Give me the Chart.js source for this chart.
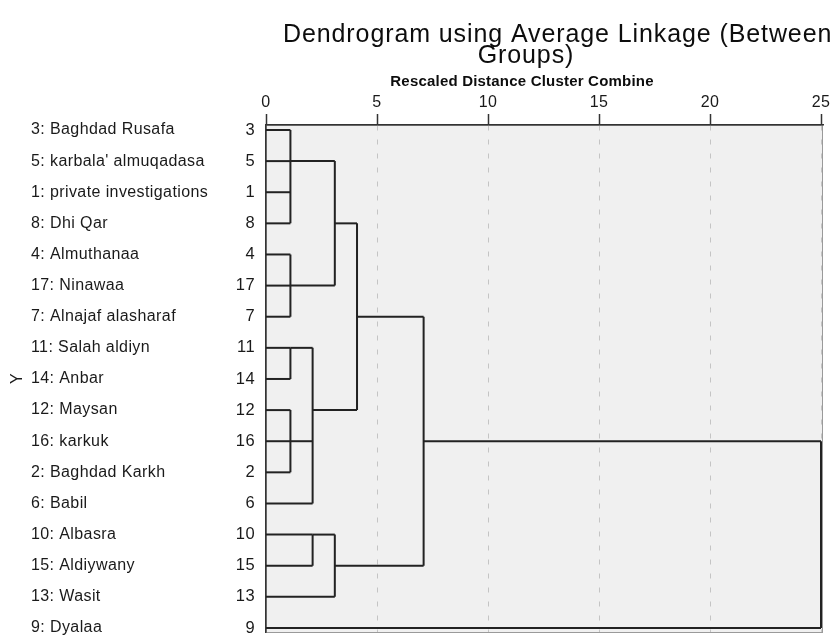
<!DOCTYPE html>
<html>
<head>
<meta charset="utf-8">
<script src="https://cdn.jsdelivr.net/npm/chart.js@4/dist/chart.umd.min.js"></script>
<style>
  html, body { margin: 0; padding: 0; background: #fff; }
  #wrap { width: 840px; height: 637px; position: relative; }
</style>
</head>
<body>
<div id="wrap"><canvas id="dendro"></canvas></div>
<script>
// leaves, top to bottom
const ids = ['3', '5', '1', '8', '4', '17', '7', '11', '14', '12', '16', '2', '6', '10', '15', '13', '9'];
const names = ['Baghdad Rusafa', "karbala' almuqadasa", 'private investigations', 'Dhi Qar', 'Almuthanaa',
  'Ninawaa', 'Alnajaf alasharaf', 'Salah aldiyn', 'Anbar', 'Maysan', 'karkuk', 'Baghdad Karkh', 'Babil',
  'Albasra', 'Aldiywany', 'Wasit', 'Dyalaa'];

// merges: children (leaf ids or n#), rescaled distance, leaf row the joined branch leaves from
const nodeChildren = [
  ['3', '5', '1', '8'],
  ['4', '17', '7'],
  ['n0', 'n1'],
  ['11', '14'],
  ['12', '16', '2'],
  ['n3', 'n4', '6'],
  ['n2', 'n5'],
  ['10', '15'],
  ['n7', '13'],
  ['n6', 'n8'],
  ['n9', '9']
];
const nodeDistance = [1.1, 1.1, 3.1, 1.1, 1.1, 2.1, 4.1, 2.1, 3.1, 7.1, 25];
const nodeRow = ['5', '17', '8', '11', '16', '12', '7', '10', '15', '16', '16'];

const xTicks = [0, 5, 10, 15, 20, 25];

const lineColor = '#222';
const textColor = '#1a1a1a';
const fontFamily = '"Liberation Sans", Arial, sans-serif';

// build the segments
function rowOf(key) {
  if (key[0] === 'n') return ids.indexOf(nodeRow[+key.slice(1)]);
  return ids.indexOf(key);
}
function distOf(key) {
  return key[0] === 'n' ? nodeDistance[+key.slice(1)] : 0;
}
const segments = [];
nodeChildren.forEach((kids, i) => {
  const d = nodeDistance[i];
  const rows = kids.map(rowOf);
  kids.forEach(k => {
    segments.push([{x: distOf(k), y: rowOf(k)}, {x: d, y: rowOf(k)}]);
  });
  segments.push([{x: d, y: Math.min(...rows)}, {x: d, y: Math.max(...rows)}]);
});

const datasets = segments.map(seg => ({
  data: seg,
  showLine: true,
  borderColor: lineColor,
  borderWidth: 2,
  pointRadius: 0,
  fill: false,
  xAxisID: 'x',
  yAxisID: 'y'
}));

const plotLook = {
  id: 'plotLook',
  beforeUpdate(chart) {
    chart.ctx.letterSpacing = '0.4px';
  },
  beforeDraw(chart) {
    const {ctx, chartArea: a} = chart;
    ctx.letterSpacing = '0.4px';
    ctx.save();
    ctx.fillStyle = '#f0f0f0';
    ctx.fillRect(a.left, a.top, a.right - a.left, a.bottom - a.top);
    ctx.strokeStyle = '#9a9a9a';
    ctx.lineWidth = 1;
    ctx.strokeRect(a.left + 0.5, a.top + 0.5, a.right - a.left - 1, a.bottom - a.top);
    ctx.restore();
  },
  afterDraw(chart) {
    const ctx = chart.ctx;
    ctx.save();
    ctx.fillStyle = '#0d0d0d';
    ctx.textBaseline = 'alphabetic';
    ctx.letterSpacing = '0.9px';
    ctx.font = '25px ' + fontFamily;
    ctx.textAlign = 'left';
    ctx.fillText('Dendrogram using Average Linkage (Between', 283, 42);
    ctx.textAlign = 'center';
    ctx.fillText('Groups)', 526, 63);
    ctx.letterSpacing = '0.2px';
    ctx.font = 'bold 15px ' + fontFamily;
    ctx.fillText('Rescaled Distance Cluster Combine', 522, 86);
    ctx.restore();
  }
};

const noPad = s => { s.paddingTop = 0; s.paddingBottom = 0; };
const rowScale = {
  type: 'linear',
  min: -0.16,
  max: 16.13,
  reverse: true,
  grid: {display: false}
};

new Chart(document.getElementById('dendro'), {
  type: 'scatter',
  data: {datasets: datasets},
  options: {
    responsive: true,
    maintainAspectRatio: false,
    animation: false,
    layout: {padding: {top: 89, right: 17, bottom: 5, left: 0}},
    plugins: {legend: {display: false}, tooltip: {enabled: false}, title: {display: false}},
    scales: {
      x: {
        type: 'linear',
        position: 'top',
        min: 0,
        max: 25.09,
        afterBuildTicks: s => { s.ticks = xTicks.map(v => ({value: v})); },
        ticks: {font: {size: 16, family: fontFamily}, color: textColor, padding: 2, maxRotation: 0},
        grid: {
          color: c => c.tick && c.tick.value === 0 ? 'rgba(0,0,0,0)' : '#c4c4c4',
          lineWidth: 1,
          tickLength: 11,
          tickColor: '#333',
          tickWidth: 1.5
        },
        border: {display: true, color: '#333', width: 1.5, dash: [5, 9]},
        afterFit: s => { s.height = 36; }
      },
      y: Object.assign({}, rowScale, {
        position: 'left',
        weight: 0,
        ticks: {
          stepSize: 1, includeBounds: false, autoSkip: false, maxTicksLimit: 40,
          font: {size: 16.5, family: fontFamily}, color: textColor, padding: 3,
          callback: v => ids[v]
        },
        border: {display: true, color: '#333', width: 1.5},
        afterFit: s => { s.width = 31; noPad(s); }
      }),
      yNames: Object.assign({}, rowScale, {
        position: 'left',
        weight: 1,
        ticks: {
          stepSize: 1, includeBounds: false, autoSkip: false, maxTicksLimit: 40, crossAlign: 'far',
          font: {size: 16, family: fontFamily}, color: textColor, padding: 0,
          callback: v => ids[v] + ': ' + names[v]
        },
        border: {display: false},
        afterFit: s => { s.width = 204; noPad(s); }
      }),
      yTitle: Object.assign({}, rowScale, {
        position: 'left',
        weight: 2,
        ticks: {display: false},
        border: {display: false},
        title: {display: true, text: 'Y', color: textColor, font: {size: 16, family: fontFamily}, padding: {top: 8, bottom: 0}},
        afterFit: s => { s.width = 31; noPad(s); }
      })
    }
  },
  plugins: [plotLook]
});
</script>
</body>
</html>
